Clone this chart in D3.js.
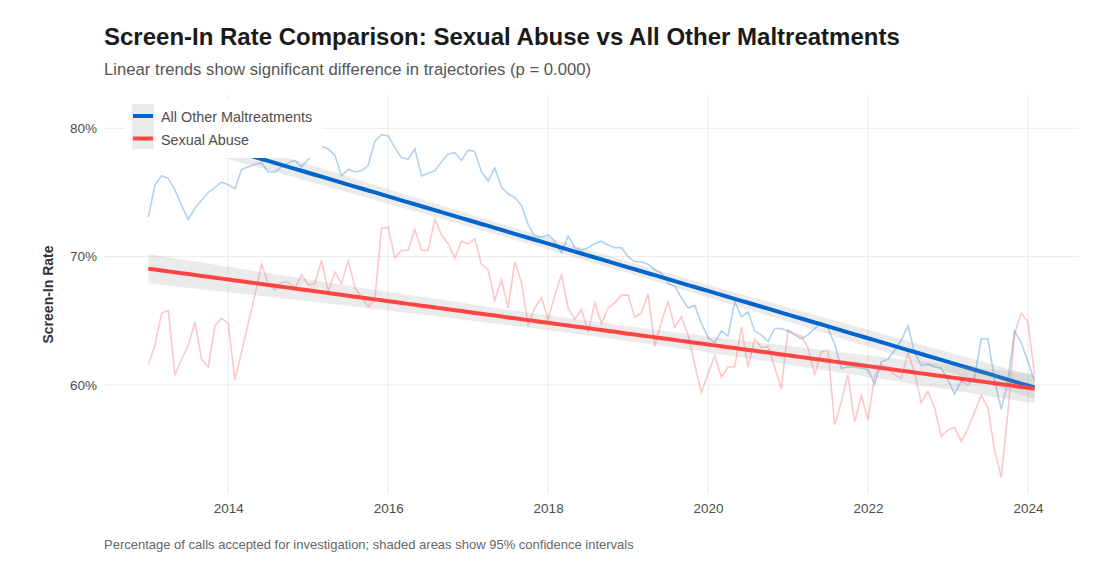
<!DOCTYPE html>
<html>
<head>
<meta charset="utf-8">
<script src="https://cdn.jsdelivr.net/npm/d3@7"></script>
<style>
  body { margin: 0; background: #fff; }
  svg { font-family: "Liberation Sans", Arial, sans-serif; }
</style>
</head>
<body>
<div id="chart"></div>
<script>
// monthly screen-in rates (%), Jan 2013 .. Feb 2024
const months = d3.timeMonth.range(new Date(2013, 0, 1), new Date(2024, 2, 1));

const otherRates = [
  73.1, 75.6, 76.3, 76.1, 75.2, 74.0, 72.9, 73.8, 74.4, 75.0, 75.4, 75.8,
  75.6, 75.3, 76.8, 77.0, 77.2, 77.3, 76.6, 76.6, 77.0, 77.3, 77.5, 77.0,
  77.6, 78.0, 78.6, 78.4, 77.9, 76.3, 76.8, 76.6, 76.7, 77.1, 79.0, 79.5,
  79.4, 78.5, 77.7, 77.6, 78.4, 76.3, 76.5, 76.7, 77.4, 78.0, 78.1, 77.5,
  78.3, 78.2, 76.6, 75.9, 76.9, 75.4, 74.9, 74.6, 74.0, 72.5, 71.6, 71.5,
  71.7, 71.2, 70.3, 71.6, 70.7, 70.5, 70.7, 71.0, 71.2, 70.9, 70.7, 70.7,
  70.0, 69.6, 69.6, 69.4, 69.0, 68.7, 67.9, 67.7, 66.8, 66.0, 66.2, 64.8,
  63.7, 63.3, 64.2, 63.8, 66.5, 65.3, 65.7, 64.2, 63.9, 63.4, 64.4, 64.4,
  64.2, 63.9, 63.6, 63.9, 64.4, 64.9, 64.4, 63.2, 61.3, 61.4, 61.4, 61.3,
  61.2, 60.1, 61.8, 62.0, 62.7, 63.5, 64.6, 62.5, 61.5, 61.6, 61.4, 61.3,
  60.4, 59.3, 60.3, 60.0, 60.6, 63.6, 63.6, 60.4, 58.1, 60.3, 64.2, 63.3,
  61.8, 60.3
];

const sexualRates = [
  61.6, 63.1, 65.6, 65.8, 60.8, 62.0, 63.1, 64.9, 62.0, 61.4, 64.6, 65.2,
  64.8, 60.4, 62.6, 64.8, 67.0, 69.4, 67.9, 67.4, 68.0, 68.0, 67.5, 68.6,
  67.8, 67.9, 69.7, 67.3, 68.8, 67.9, 69.7, 67.6, 66.8, 66.1, 66.7, 72.2,
  72.3, 69.9, 70.5, 70.5, 72.1, 70.5, 70.5, 72.9, 71.7, 71.0, 69.9, 71.2,
  71.0, 71.4, 69.4, 69.0, 66.6, 68.2, 66.0, 69.6, 68.0, 64.7, 66.0, 66.8,
  65.1, 67.0, 68.6, 66.0, 65.1, 65.9, 64.1, 66.4, 64.8, 66.0, 66.4, 67.0,
  67.0, 65.3, 65.6, 67.1, 63.0, 64.9, 66.5, 64.5, 65.3, 63.9, 61.6, 59.4,
  60.9, 62.3, 60.6, 61.4, 61.4, 64.5, 61.4, 63.6, 62.9, 63.0, 61.4, 59.7,
  64.3, 64.0, 63.8, 62.9, 60.8, 62.6, 62.7, 56.9, 58.7, 60.8, 57.1, 59.2,
  57.3, 60.7, 61.6, 61.2, 60.8, 60.5, 62.5, 61.0, 58.6, 59.5, 58.2, 56.0,
  56.5, 56.7, 55.6, 56.6, 57.9, 59.2, 58.2, 54.9, 52.8, 57.9, 64.0, 65.6,
  64.9, 60.8
];

const seriesNames = ["All Other Maltreatments", "Sexual Abuse"];
const seriesColors = ["#0066CC", "#FF4444"];
const yTicks = [60, 70, 80];
const xTicks = [2014, 2016, 2018, 2020, 2022, 2024];

const W = 1118, H = 578;
const panel = {left: 104, right: 1079, top: 95, bottom: 494};

const svg = d3.select("#chart").append("svg")
  .attr("width", W)
  .attr("height", H);

const decYear = d => d.getFullYear() + d.getMonth() / 12;

const x = d3.scaleLinear()
  .domain([2012.446, 2024.639])
  .range([panel.left, panel.right]);

const y = d3.scaleLinear()
  .domain([51.5, 82.6])
  .range([panel.bottom, panel.top]);

// grid
svg.append("g")
  .selectAll("line")
  .data(yTicks)
  .join("line")
  .attr("x1", panel.left).attr("x2", panel.right)
  .attr("y1", d => y(d)).attr("y2", d => y(d))
  .attr("stroke", "#EBEBEB").attr("stroke-width", 1);

svg.append("g")
  .selectAll("line")
  .data(xTicks)
  .join("line")
  .attr("x1", d => x(d)).attr("x2", d => x(d))
  .attr("y1", panel.top).attr("y2", panel.bottom)
  .attr("stroke", "#EBEBEB").attr("stroke-width", 1);

// axes (text only)
const xAxis = svg.append("g")
  .attr("transform", "translate(0," + (panel.bottom + 3) + ")")
  .call(d3.axisBottom(x).tickValues(xTicks).tickFormat(d3.format("d")).tickSize(0).tickPadding(6));
xAxis.select(".domain").remove();
xAxis.selectAll("text").attr("font-size", 13.5).attr("fill", "#4D4D4D")
  .attr("font-family", "Liberation Sans, Arial, sans-serif");

const yAxis = svg.append("g")
  .attr("transform", "translate(" + (panel.left - 3) + ",0)")
  .call(d3.axisLeft(y).tickValues(yTicks).tickFormat(d => d + "%").tickSize(0).tickPadding(4));
yAxis.select(".domain").remove();
yAxis.selectAll("text").attr("font-size", 13.5).attr("fill", "#4D4D4D")
  .attr("font-family", "Liberation Sans, Arial, sans-serif");

const series = [otherRates, sexualRates].map((vals, k) => ({
  name: seriesNames[k],
  color: seriesColors[k],
  points: vals.map((v, i) => ({t: decYear(months[i]), v: v}))
}));

// raw monthly lines
const line = d3.line().x(d => x(d.t)).y(d => y(d.v));
svg.append("g")
  .selectAll("path")
  .data(series)
  .join("path")
  .attr("d", d => line(d.points))
  .attr("fill", "none")
  .attr("stroke", d => d.color)
  .attr("stroke-opacity", 0.3)
  .attr("stroke-width", 1.6);

// linear fit with 95% CI
function fitLm(pts) {
  const n = pts.length;
  const mx = d3.mean(pts, p => p.t), my = d3.mean(pts, p => p.v);
  const sxx = d3.sum(pts, p => (p.t - mx) ** 2);
  const b = d3.sum(pts, p => (p.t - mx) * (p.v - my)) / sxx;
  const a = my - b * mx;
  const s = Math.sqrt(d3.sum(pts, p => (p.v - a - b * p.t) ** 2) / (n - 2));
  const tq = 1.978;
  return pts.map(p => {
    const fit = a + b * p.t;
    const se = s * Math.sqrt(1 / n + (p.t - mx) ** 2 / sxx);
    return {t: p.t, fit: fit, lo: fit - tq * se, hi: fit + tq * se};
  });
}

const area = d3.area().x(d => x(d.t)).y0(d => y(d.lo)).y1(d => y(d.hi));
const fitLine = d3.line().x(d => x(d.t)).y(d => y(d.fit));

series.forEach(s => {
  const f = fitLm(s.points);
  svg.append("path")
    .attr("d", area(f))
    .attr("fill", "#999999")
    .attr("fill-opacity", 0.2);
  svg.append("path")
    .attr("d", fitLine(f))
    .attr("fill", "none")
    .attr("stroke", s.color)
    .attr("stroke-width", 4);
});

// legend
const lg = svg.append("g");
lg.append("rect")
  .attr("x", 125).attr("y", 100).attr("width", 197).attr("height", 58)
  .attr("fill", "#fff");
series.forEach((s, k) => {
  const ky = 104 + k * 22.5;
  lg.append("rect")
    .attr("x", 132).attr("y", ky).attr("width", 22).attr("height", 22.5)
    .attr("fill", "#EBEBEB");
  lg.append("line")
    .attr("x1", 133).attr("x2", 153)
    .attr("y1", ky + 12).attr("y2", ky + 12)
    .attr("stroke", s.color).attr("stroke-width", 4);
  lg.append("text")
    .attr("x", 161).attr("y", ky + 18)
    .attr("font-size", 14.4).attr("fill", "#4D4D4D")
    .text(s.name);
});

// titles
svg.append("text")
  .attr("x", 104).attr("y", 45)
  .attr("font-size", 24).attr("font-weight", "bold").attr("fill", "#1A1A1A")
  .text("Screen-In Rate Comparison: Sexual Abuse vs All Other Maltreatments");

svg.append("text")
  .attr("x", 104).attr("y", 75)
  .attr("font-size", 16.7).attr("fill", "#555")
  .text("Linear trends show significant difference in trajectories (p = 0.000)");

svg.append("text")
  .attr("x", 104).attr("y", 549)
  .attr("font-size", 13).attr("fill", "#666")
  .text("Percentage of calls accepted for investigation; shaded areas show 95% confidence intervals");

svg.append("text")
  .attr("transform", "translate(53," + ((panel.top + panel.bottom) / 2) + ") rotate(-90)")
  .attr("text-anchor", "middle")
  .attr("font-size", 14).attr("font-weight", "bold").attr("fill", "#333")
  .text("Screen-In Rate");
</script>
</body>
</html>
